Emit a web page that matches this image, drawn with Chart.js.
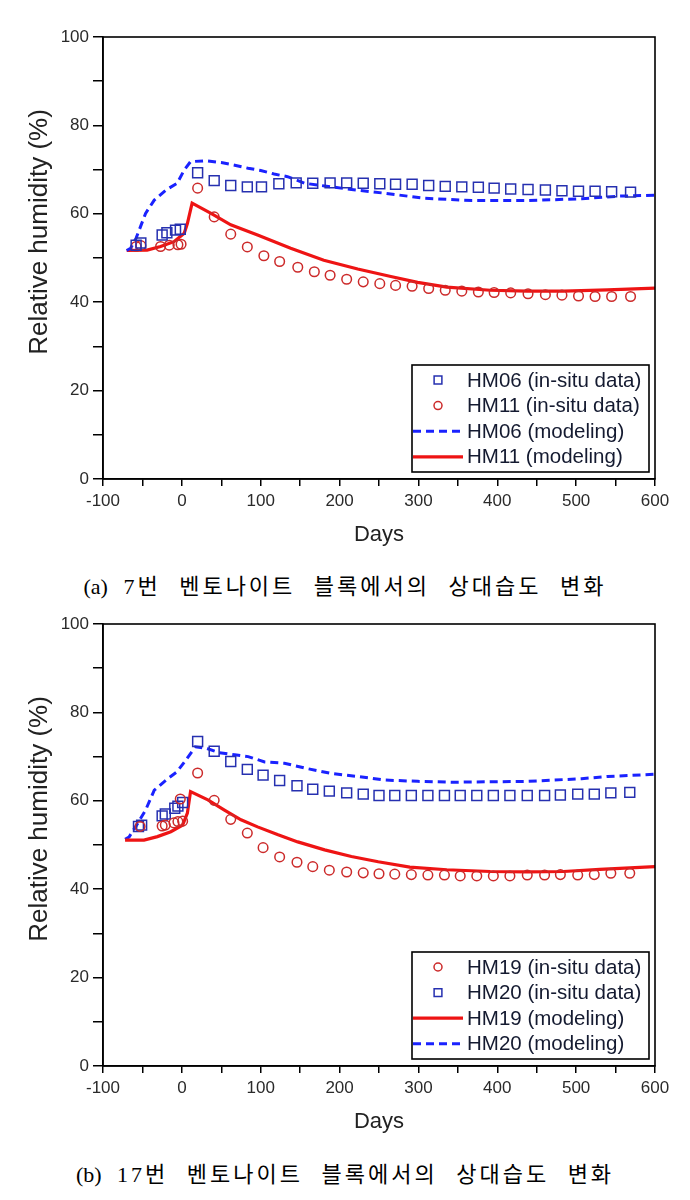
<!DOCTYPE html>
<html><head><meta charset="utf-8">
<script src="https://cdn.jsdelivr.net/npm/chart.js@4.4.1/dist/chart.umd.min.js"></script>
<style>
html,body{margin:0;padding:0;background:#fff;}
body{width:690px;height:1200px;position:relative;overflow:hidden;}
.wrap{position:absolute;left:0;width:690px;height:560px;}
#wa{top:0}
#wb{top:587px}
.cap{position:absolute;left:0;width:690px;text-align:center;font-family:"Liberation Serif","Noto Sans CJK KR",serif;font-size:22px;color:#000;line-height:30px;white-space:nowrap;word-spacing:10px;}
.cap .k{letter-spacing:3px;}
#ca{top:572px}
#cb{top:1160px}
</style></head>
<body>
<div class="wrap" id="wa"><canvas id="chartA" width="690" height="560"></canvas></div>
<div class="cap" id="ca">(a) <span class="k">7번 벤토나이트 블록에서의 상대습도 변화</span></div>
<div class="wrap" id="wb"><canvas id="chartB" width="690" height="560"></canvas></div>
<div class="cap" id="cb">(b) <span class="k">17번 벤토나이트 블록에서의 상대습도 변화</span></div>
<script>
// ---------- Data: chart (a) ----------
const hm06Days = [-58, -52, -25, -19, -8, -2, 20, 41, 62, 83, 101, 123, 145, 166, 188, 209, 230, 251, 271, 292, 313, 334, 355, 376, 396, 417, 439, 461, 482, 503, 524, 545, 569];
const hm06Vals = [52.9, 53.4, 55.2, 55.7, 56.3, 56.5, 69.3, 67.5, 66.4, 66.1, 66.1, 66.8, 67.0, 66.9, 67.0, 67.0, 66.9, 66.8, 66.7, 66.7, 66.4, 66.2, 66.1, 66.0, 65.8, 65.6, 65.5, 65.4, 65.2, 65.1, 65.1, 65.0, 64.9];
const hm11Days = [-58, -52, -27, -16, -5, -1, 20, 41, 62, 83, 104, 124, 147, 168, 188, 209, 230, 251, 271, 292, 313, 334, 355, 376, 396, 417, 439, 461, 482, 503, 524, 545, 569];
const hm11Vals = [52.6, 52.8, 52.6, 52.9, 53.0, 53.1, 65.8, 59.3, 55.4, 52.5, 50.5, 49.2, 47.9, 46.9, 46.1, 45.2, 44.6, 44.2, 43.8, 43.6, 43.1, 42.7, 42.5, 42.3, 42.2, 42.1, 41.9, 41.7, 41.6, 41.4, 41.3, 41.3, 41.3];
const hm06ModDays = [-70, -65, -58, -46, -35, -20, -6, 3, 11, 30, 50, 67, 84, 100, 117, 134, 156, 181, 215, 255, 308, 368, 438, 507, 554, 600];
const hm06ModVals = [51.7, 52.2, 54.5, 60.1, 63.1, 65.4, 66.9, 69.9, 71.8, 72.0, 71.6, 71.0, 70.3, 69.8, 69.0, 68.4, 66.9, 66.3, 65.5, 64.7, 63.5, 63.0, 63.0, 63.4, 64.0, 64.2];
const hm11ModDays = [-70, -44, -27, -10, 3, 7, 13, 37, 62, 96, 138, 180, 223, 265, 299, 336, 391, 438, 484, 540, 600];
const hm11ModVals = [51.7, 51.8, 52.6, 53.7, 55.6, 57.8, 62.4, 60.1, 57.5, 55.2, 52.2, 49.5, 47.5, 45.8, 44.5, 43.4, 42.7, 42.5, 42.5, 42.8, 43.2];

// ---------- Data: chart (b) ----------
const hm19Days = [-53, -25, -21, -10, -5, -2, 1, 20, 41, 62, 83, 103, 124, 146, 166, 187, 209, 230, 250, 270, 291, 312, 333, 353, 374, 395, 416, 438, 460, 480, 502, 523, 544, 568];
const hm19Vals = [54.2, 54.3, 54.5, 55.0, 55.3, 60.4, 55.4, 66.3, 60.1, 55.8, 52.7, 49.4, 47.3, 46.1, 45.1, 44.3, 43.9, 43.7, 43.5, 43.4, 43.3, 43.2, 43.2, 43.0, 43.0, 43.0, 43.0, 43.2, 43.2, 43.3, 43.2, 43.3, 43.6, 43.6];
const hm20Days = [-55, -51, -25, -21, -9, -5, 1, 20, 41, 62, 83, 103, 124, 146, 166, 187, 209, 230, 250, 270, 291, 312, 333, 353, 374, 395, 416, 438, 460, 480, 502, 523, 544, 568];
const hm20Vals = [54.2, 54.5, 56.6, 57.0, 58.3, 58.8, 59.6, 73.4, 71.2, 68.9, 67.1, 65.8, 64.6, 63.4, 62.6, 62.2, 61.8, 61.5, 61.2, 61.2, 61.2, 61.2, 61.2, 61.2, 61.2, 61.2, 61.2, 61.2, 61.2, 61.3, 61.5, 61.5, 61.8, 61.9];
const hm19ModDays = [-72, -48, -31, -14, 1, 7, 11, 33, 54, 75, 96, 122, 147, 181, 215, 249, 289, 336, 391, 438, 484, 530, 600];
const hm19ModVals = [51.1, 51.1, 51.9, 53.0, 54.5, 57.2, 62.1, 60.2, 57.9, 55.7, 54.1, 52.3, 50.7, 48.9, 47.4, 46.2, 45.0, 44.4, 44.0, 43.9, 44.0, 44.5, 45.1];
const hm20ModDays = [-72, -67, -56, -46, -35, -20, -6, 5, 17, 31, 47, 67, 84, 105, 130, 156, 189, 223, 257, 299, 345, 438, 507, 540, 600];
const hm20ModVals = [51.3, 51.8, 54.9, 57.9, 62.4, 64.7, 66.6, 69.2, 72.2, 71.9, 70.9, 70.4, 70.0, 68.8, 68.5, 67.4, 66.2, 65.5, 64.7, 64.4, 64.2, 64.4, 65.0, 65.5, 66.0];

// ---------- Axis ticks / labels ----------
const xMin = -100, xMax = 600, xStep = 50, xLabelEvery = 100;
const yMin = 0, yMax = 100, yStep = 10, yLabelEvery = 20;
const xTitle = 'Days';
const yTitle = 'Relative humidity (%)';

// ---------- Styles ----------
const SQ_COLOR = '#2630b0';
const CI_COLOR = '#cc2a2a';
const BLUE_LINE = '#1a22ff';
const RED_LINE = '#ee1414';
const SANS = '"Liberation Sans", Arial, sans-serif';

const pts = (d, v) => d.map((x, i) => ({x: x, y: v[i]}));

function squareSet(label, d, v) {
  return {label, data: pts(d, v), showLine: false, pointStyle: 'rect', pointRadius: 7,
    pointBorderWidth: 1.5, borderColor: SQ_COLOR, backgroundColor: 'rgba(0,0,0,0)', order: 1};
}
function circleSet(label, d, v) {
  return {label, data: pts(d, v), showLine: false, pointStyle: 'circle', pointRadius: 4.8,
    pointBorderWidth: 1.5, borderColor: CI_COLOR, backgroundColor: 'rgba(0,0,0,0)', order: 1};
}
function dashedSet(label, d, v) {
  return {label, data: pts(d, v), showLine: true, pointRadius: 0, borderColor: BLUE_LINE,
    borderWidth: 3, borderDash: [8, 5], tension: 0, backgroundColor: BLUE_LINE, order: 2};
}
function solidSet(label, d, v) {
  return {label, data: pts(d, v), showLine: true, pointRadius: 0, borderColor: RED_LINE,
    borderWidth: 3.2, tension: 0, backgroundColor: RED_LINE, order: 2};
}

const framePlugin = {
  id: 'frame',
  afterDatasetsDraw(chart) {
    const {ctx, chartArea: a} = chart;
    ctx.save();
    ctx.strokeStyle = '#000';
    ctx.lineWidth = 1.6;
    ctx.strokeRect(a.left, a.top, a.right - a.left, a.bottom - a.top);
    ctx.restore();
  }
};

// Y axis title drawn as canvas text, slightly above the plot centre as in the original
const yTitlePlugin = {
  id: 'yTitle',
  afterDraw(chart) {
    const {ctx, chartArea: a} = chart;
    ctx.save();
    ctx.translate(40, (a.top + a.bottom) / 2 - 26);
    ctx.rotate(-Math.PI / 2);
    ctx.font = '26px ' + SANS;
    ctx.fillStyle = '#222';
    ctx.textAlign = 'center';
    ctx.textBaseline = 'middle';
    ctx.fillText(yTitle, 0, 0);
    ctx.restore();
  }
};

const boxLegend = {
  id: 'boxLegend',
  afterDraw(chart) {
    const {ctx, chartArea: a} = chart;
    const w = 237, h = 107;
    const left = a.right - 243, top = a.bottom - 114;
    ctx.save();
    ctx.fillStyle = '#fff';
    ctx.fillRect(left, top, w, h);
    ctx.strokeStyle = '#000';
    ctx.lineWidth = 1.6;
    ctx.strokeRect(left, top, w, h);
    ctx.font = '20.5px ' + SANS;
    ctx.textBaseline = 'middle';
    chart.data.datasets.forEach((ds, i) => {
      const y = top + 15 + i * 25.6;
      if (ds.showLine) {
        ctx.save();
        ctx.strokeStyle = ds.borderColor;
        ctx.lineWidth = ds.borderWidth;
        ctx.setLineDash(ds.borderDash || []);
        ctx.beginPath();
        ctx.moveTo(left + 1, y);
        ctx.lineTo(left + 51, y);
        ctx.stroke();
        ctx.restore();
      } else {
        ctx.save();
        ctx.strokeStyle = ds.borderColor;
        ctx.fillStyle = 'rgba(0,0,0,0)';
        ctx.lineWidth = 1.5;
        Chart.helpers.drawPoint(ctx, {pointStyle: ds.pointStyle, radius: ds.pointStyle === 'rect' ? 5.5 : 4, rotation: 0, borderWidth: 1.5}, left + 26, y);
        ctx.restore();
      }
      ctx.fillStyle = '#141a30';
      ctx.fillText(ds.label, left + 55, y + 1);
    });
    ctx.restore();
  }
};

function buildChart(id, datasets) {
  return new Chart(document.getElementById(id), {
    type: 'scatter',
    data: {datasets},
    options: {
      responsive: false, animation: false, devicePixelRatio: 1,
      layout: {padding: {top: 37, right: 35, left: 0, bottom: 0}},
      plugins: {legend: {display: false}, tooltip: {enabled: false}},
      scales: {
        x: {
          type: 'linear', min: xMin, max: xMax,
          ticks: {stepSize: xStep, autoSkip: false, maxRotation: 0, padding: 5,
            callback: v => (v % xLabelEvery === 0 ? v : ''),
            font: {family: SANS, size: 17}, color: '#2a2a2a'},
          grid: {drawOnChartArea: false, drawTicks: true, tickLength: 7, color: '#000', lineWidth: 1.5},
          border: {display: true, color: '#000', width: 1.6},
          title: {display: true, text: xTitle, font: {family: SANS, size: 22}, color: '#222', padding: {top: 0, bottom: 12}},
          afterFit: s => { s.height = 81; }
        },
        y: {
          type: 'linear', min: yMin, max: yMax,
          ticks: {stepSize: yStep, autoSkip: false, padding: 4,
            callback: v => (v % yLabelEvery === 0 ? v : ''),
            font: {family: SANS, size: 17}, color: '#2a2a2a'},
          grid: {drawOnChartArea: false, drawTicks: true, tickLength: 10, color: '#000', lineWidth: 1.5},
          border: {display: true, color: '#000', width: 1.6},
          title: {display: false},
          afterFit: s => { s.width = 103; }
        }
      }
    },
    plugins: [framePlugin, yTitlePlugin, boxLegend]
  });
}

buildChart('chartA', [
  squareSet('HM06 (in-situ data)', hm06Days, hm06Vals),
  circleSet('HM11 (in-situ data)', hm11Days, hm11Vals),
  dashedSet('HM06 (modeling)', hm06ModDays, hm06ModVals),
  solidSet('HM11 (modeling)', hm11ModDays, hm11ModVals)
]);
buildChart('chartB', [
  circleSet('HM19 (in-situ data)', hm19Days, hm19Vals),
  squareSet('HM20 (in-situ data)', hm20Days, hm20Vals),
  solidSet('HM19 (modeling)', hm19ModDays, hm19ModVals),
  dashedSet('HM20 (modeling)', hm20ModDays, hm20ModVals)
]);
</script>
</body></html>
